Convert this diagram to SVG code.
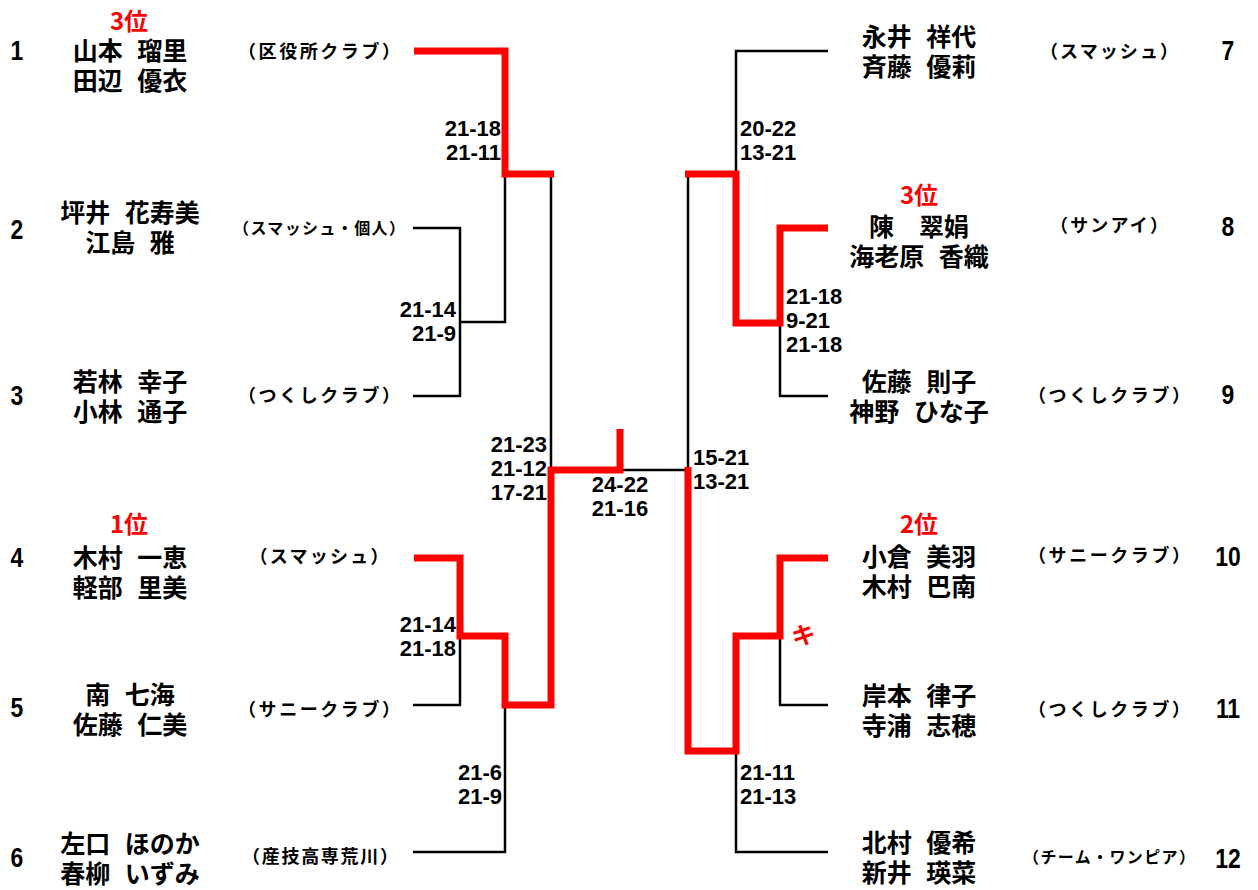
<svg xmlns="http://www.w3.org/2000/svg" width="1258" height="890" viewBox="0 0 1258 890">
<style>
text{font-family:"Noto Sans CJK JP","Liberation Sans",sans-serif;font-weight:700;fill:#000}
.nm{font-size:25px;text-anchor:middle;word-spacing:9px}
.cl{font-size:18px;text-anchor:middle}
.cs{font-size:16px;text-anchor:middle}
.rk{font-size:24px;text-anchor:middle;fill:#ff0000}
.sd{font-family:"Liberation Sans",sans-serif;font-size:27px;text-anchor:middle}
.sc{font-family:"Liberation Sans",sans-serif;font-size:22px}
.e{text-anchor:end}
.m{text-anchor:middle}
.bk{fill:none;stroke:#000;stroke-width:2.5;stroke-linejoin:miter}
.rd{fill:none;stroke:#ff0000;stroke-width:7;stroke-linejoin:miter;stroke-linecap:butt}
</style>
<rect width="1258" height="890" fill="#fff"/>
<g id="connectors">
<path class="bk" d="M413,228H460V396H413"/>
<path class="bk" d="M460,322H505V174"/>
<path class="bk" d="M551,174V470"/>
<path class="bk" d="M413,705H460V636"/>
<path class="bk" d="M413,852H505V705"/>
<path class="bk" d="M828,51H736V174"/>
<path class="bk" d="M688,174V470"/>
<path class="bk" d="M828,396H780V323"/>
<path class="bk" d="M828,705H780V636"/>
<path class="bk" d="M828,852H736V751"/>
<path class="bk" d="M620,470H688"/>
<path class="rd" d="M414,51H505V174H554"/>
<path class="rd" d="M414,558H460V636H505V705H551V470H620V429"/>
<path class="rd" d="M828,558H780V636H736V751H688V467"/>
<path class="rd" d="M828,228H780V323H736V174H685"/>
</g>
<g id="scores">
<text class="sc e" x="501" y="136">21-18</text>
<text class="sc e" x="501" y="160">21-11</text>
<text class="sc e" x="456" y="317">21-14</text>
<text class="sc e" x="456" y="341">21-9</text>
<text class="sc e" x="547" y="452">21-23</text>
<text class="sc e" x="547" y="476">21-12</text>
<text class="sc e" x="547" y="500">17-21</text>
<text class="sc e" x="456" y="632">21-14</text>
<text class="sc e" x="456" y="656">21-18</text>
<text class="sc e" x="502" y="780">21-6</text>
<text class="sc e" x="502" y="804">21-9</text>
<text class="sc m" x="620" y="492">24-22</text>
<text class="sc m" x="620" y="516">21-16</text>
<text class="sc" x="740" y="136">20-22</text>
<text class="sc" x="740" y="160">13-21</text>
<text class="sc" x="786" y="304">21-18</text>
<text class="sc" x="786" y="328">9-21</text>
<text class="sc" x="786" y="352">21-18</text>
<text class="sc" x="693" y="465">15-21</text>
<text class="sc" x="693" y="489">13-21</text>
<text class="sc" x="740" y="780">21-11</text>
<text class="sc" x="740" y="804">21-13</text>
<text class="rk" transform="translate(805,644) rotate(-10)">キ</text>
</g>
<g id="p1">
<text class="rk" x="129" y="30">3位</text>
<text class="sd" transform="translate(17,60) scale(0.85,1)">1</text>
<text class="nm" x="130" y="60">山本 瑠里</text>
<text class="nm" x="130" y="90">田辺 優衣</text>
<text class="cl" x="319" y="58" textLength="162" lengthAdjust="spacing">（区役所クラブ）</text>
</g>
<g id="p2">
<text class="sd" transform="translate(17,239) scale(0.85,1)">2</text>
<text class="nm" x="130" y="222">坪井 花寿美</text>
<text class="nm" x="130" y="252">江島 雅</text>
<text class="cs" x="319" y="234" textLength="172" lengthAdjust="spacing">（スマッシュ・個人）</text>
</g>
<g id="p3">
<text class="sd" transform="translate(17,405) scale(0.85,1)">3</text>
<text class="nm" x="130" y="391">若林 幸子</text>
<text class="nm" x="130" y="421">小林 通子</text>
<text class="cl" x="319" y="402" textLength="162" lengthAdjust="spacing">（つくしクラブ）</text>
</g>
<g id="p4">
<text class="rk" x="129" y="533">1位</text>
<text class="sd" transform="translate(17,567) scale(0.85,1)">4</text>
<text class="nm" x="130" y="567">木村 一恵</text>
<text class="nm" x="130" y="597">軽部 里美</text>
<text class="cl" x="319" y="563" textLength="139" lengthAdjust="spacing">（スマッシュ）</text>
</g>
<g id="p5">
<text class="sd" transform="translate(17,717) scale(0.85,1)">5</text>
<text class="nm" x="130" y="704">南 七海</text>
<text class="nm" x="130" y="734">佐藤 仁美</text>
<text class="cl" x="319" y="716" textLength="162" lengthAdjust="spacing">（サニークラブ）</text>
</g>
<g id="p6">
<text class="sd" transform="translate(17,867) scale(0.85,1)">6</text>
<text class="nm" x="130" y="853">左口 ほのか</text>
<text class="nm" x="130" y="883">春柳 いずみ</text>
<text class="cl" x="320" y="863" textLength="156" lengthAdjust="spacing">（産技高専荒川）</text>
</g>
<g id="p7">
<text class="sd" transform="translate(1228,60) scale(0.85,1)">7</text>
<text class="nm" x="919" y="46">永井 祥代</text>
<text class="nm" x="919" y="76">斉藤 優莉</text>
<text class="cl" x="1109" y="58" textLength="138" lengthAdjust="spacing">（スマッシュ）</text>
</g>
<g id="p8">
<text class="rk" x="919" y="204">3位</text>
<text class="sd" transform="translate(1228,236) scale(0.85,1)">8</text>
<text class="nm" x="919" y="236">陳　翠娟</text>
<text class="nm" x="919" y="266">海老原 香織</text>
<text class="cl" x="1109" y="232" textLength="118" lengthAdjust="spacing">（サンアイ）</text>
</g>
<g id="p9">
<text class="sd" transform="translate(1228,404) scale(0.85,1)">9</text>
<text class="nm" x="919" y="391">佐藤 則子</text>
<text class="nm" x="919" y="421">神野 ひな子</text>
<text class="cl" x="1109" y="402" textLength="162" lengthAdjust="spacing">（つくしクラブ）</text>
</g>
<g id="p10">
<text class="rk" x="919" y="533">2位</text>
<text class="sd" transform="translate(1228,566) scale(0.85,1)">10</text>
<text class="nm" x="919" y="566">小倉 美羽</text>
<text class="nm" x="919" y="596">木村 巴南</text>
<text class="cl" x="1109" y="562" textLength="162" lengthAdjust="spacing">（サニークラブ）</text>
</g>
<g id="p11">
<text class="sd" transform="translate(1228,718) scale(0.85,1)">11</text>
<text class="nm" x="919" y="705">岸本 律子</text>
<text class="nm" x="919" y="735">寺浦 志穂</text>
<text class="cl" x="1109" y="716" textLength="162" lengthAdjust="spacing">（つくしクラブ）</text>
</g>
<g id="p12">
<text class="sd" transform="translate(1228,868) scale(0.85,1)">12</text>
<text class="nm" x="919" y="852">北村 優希</text>
<text class="nm" x="919" y="882">新井 瑛菜</text>
<text class="cs" x="1109" y="863" textLength="172" lengthAdjust="spacing">（チーム・ワンピア）</text>
</g>
</svg>
